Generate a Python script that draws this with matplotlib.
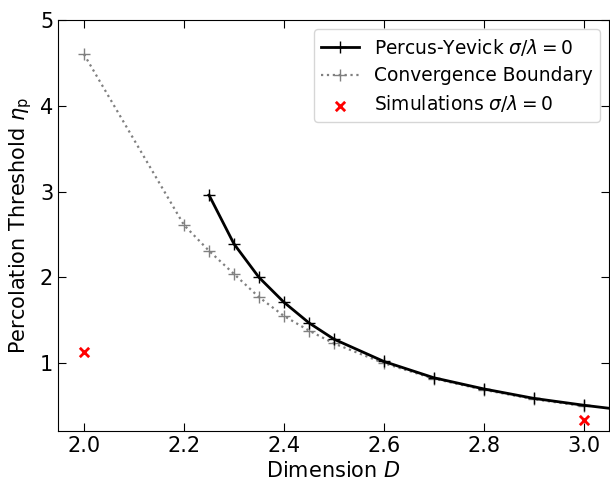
import numpy as np
import matplotlib
matplotlib.use('Agg')
import matplotlib.pyplot as plt

# Percus-Yevick threshold, sigma/lambda = 0
py_dim = [2.25, 2.3, 2.35, 2.4, 2.45, 2.5, 2.6, 2.7, 2.8, 2.9, 3.0, 3.1]
py_eta = [2.96, 2.39, 2.0, 1.71, 1.47, 1.28, 1.02, 0.83, 0.70, 0.59, 0.51, 0.44]

# convergence boundary
cb_dim = [2.0, 2.2, 2.25, 2.3, 2.35, 2.4, 2.45, 2.5, 2.6, 2.7, 2.8, 2.9, 3.0]
cb_eta = [4.60, 2.61, 2.31, 2.04, 1.77, 1.55, 1.38, 1.23, 1.00, 0.82, 0.69, 0.58, 0.50]

# simulations
sim_dim = [2.0, 3.0]
sim_eta = [1.13, 0.34]

plt.rcParams['font.family'] = 'DejaVu Sans'
plt.rcParams['mathtext.fontset'] = 'dejavusans'

fig = plt.figure(figsize=(6.1, 4.83), dpi=100)
ax = fig.add_axes([58 / 610, 52 / 483, 551 / 610, 411 / 483])

ax.plot(py_dim, py_eta, color='black', linestyle='-', marker='+', markersize=8,
        linewidth=2, label=r'Percus-Yevick $\sigma/\lambda=0$', zorder=3)
ax.plot(cb_dim, cb_eta, color='grey', linestyle=':', marker='+', markersize=8,
        linewidth=1.6, label='Convergence Boundary', zorder=2)
ax.scatter(sim_dim, sim_eta, color='red', marker='x', s=45, linewidths=2,
           label=r'Simulations $\sigma/\lambda=0$', zorder=4)

ax.set_xlim(1.948, 3.05)
ax.set_ylim(0.21, 5)
ax.set_xticks([2.0, 2.2, 2.4, 2.6, 2.8, 3.0])
ax.set_yticks([1, 2, 3, 4, 5])
ax.tick_params(direction='in', top=True, right=True, labelsize=15, length=6)
ax.set_xlabel(r'Dimension $D$', fontsize=15)
ax.set_ylabel(r'Percolation Threshold $\eta_\mathrm{p}$', fontsize=15)

ax.legend(loc='upper right', fontsize=13.4, handlelength=2.0, borderpad=0.4,
          labelspacing=0.45, handletextpad=0.8)

fig.savefig('out.png', dpi=100)
